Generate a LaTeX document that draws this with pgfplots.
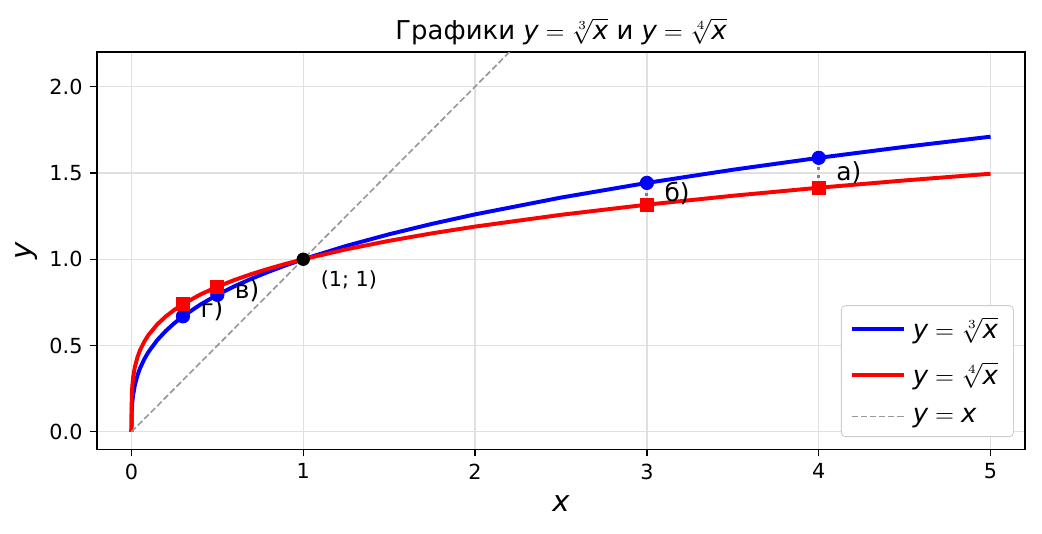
\documentclass[border=0pt]{standalone}
\usepackage{fontspec}
\setmainfont{DejaVu Sans}
\usepackage{pgfplots}
\pgfplotsset{compat=1.18}
\newcommand{\vx}{\textit{x}}
\newcommand{\vy}{\textit{y}}
\definecolor{lgray}{RGB}{153,153,153}
\begin{document}
\begin{tikzpicture}
\begin{axis}[name=ax, scale only axis, width=445.4bp, height=190.6bp,
  xmin=-0.2, xmax=5.2, ymin=-0.1, ymax=2.2,
  xtick={0,1,2,3,4,5}, ytick={0,0.5,1,1.5,2},
  yticklabel style={/pgf/number format/.cd, fixed, fixed zerofill, precision=1},
  xticklabel style={/pgf/number format/.cd, fixed, precision=0},
  /pgf/number format/assume math mode=true,
  tick label style={font=\fontsize{10}{12}\selectfont},
  xtick pos=bottom, ytick pos=left, tick align=outside,
  major tick length=3.5pt, every tick/.style={black, line width=0.6pt},
  axis line style={line width=0.6pt},
  grid=major, grid style={black!12, line width=0.6pt},
  title={Графики $\vy = \sqrt[3]{\vx}$ и $\vy = \sqrt[4]{\vx}$},
  title style={font=\fontsize{12.5}{14}\selectfont, at={(axis description cs:0.5,1)}, anchor=base, inner sep=0.5pt},
  xlabel={\vx}, xlabel style={font=\fontsize{14}{16}\selectfont, at={(axis description cs:0.5,0)}, anchor=center, yshift=-26bp},
  ylabel={\vy}, ylabel style={font=\fontsize{14}{16}\selectfont, at={(axis description cs:-0.0755,0.5)}, anchor=center},
  legend style={at={(axis description cs:1,0)}, anchor=south east, xshift=-5.3bp, yshift=5.8bp,
    font=\fontsize{12.5}{14}\selectfont, draw=black!20, rounded corners=2pt, fill=white,
    inner xsep=4pt, inner ysep=5pt, row sep=9pt, nodes={inner xsep=3.5pt, inner ysep=0.5pt}},
  legend cell align=left,
  legend image code/.code={\draw[#1] (0bp,0bp) -- (25bp,0bp);},
]
\addplot[blue, line width=1.9pt] coordinates {
(0,0) (0.002,0.1260) (0.005,0.1710) (0.01,0.2154) (0.02,0.2714) (0.035,0.3271) (0.05,0.3684) (0.075,0.4217) (0.1,0.4642) (0.15,0.5313) (0.2,0.5848) (0.25,0.6300) (0.3,0.6694) (0.4,0.7368) (0.5,0.7937) (0.6,0.8434) (0.7,0.8879) (0.8,0.9283) (0.9,0.9655) (1,1) (1.25,1.0772) (1.5,1.1447) (1.75,1.2051) (2,1.2599) (2.5,1.3572) (3,1.4422) (3.5,1.5183) (4,1.5874) (4.5,1.6510) (5,1.7100)};
\addlegendentry{$\vy = \sqrt[3]{\vx}$}
\addplot[red, line width=1.9pt] coordinates {
(0,0) (0.002,0.2115) (0.005,0.2659) (0.01,0.3162) (0.02,0.3761) (0.035,0.4325) (0.05,0.4729) (0.075,0.5233) (0.1,0.5623) (0.15,0.6223) (0.2,0.6687) (0.25,0.7071) (0.3,0.7401) (0.4,0.7953) (0.5,0.8409) (0.6,0.8801) (0.7,0.9147) (0.8,0.9457) (0.9,0.9740) (1,1) (1.25,1.0574) (1.5,1.1067) (1.75,1.1502) (2,1.1892) (2.5,1.2574) (3,1.3161) (3.5,1.3678) (4,1.4142) (4.5,1.4565) (5,1.4953)};
\addlegendentry{$\vy = \sqrt[4]{\vx}$}
\addplot[lgray, line width=0.8pt, dash pattern=on 3pt off 1.4pt] coordinates {(0,0) (5,5)};
\addlegendentry{$\vy = \vx$}
% markers
\addplot[only marks, mark=*, blue, mark size=3.2bp, forget plot] coordinates {(0.3,0.6694) (0.5,0.7937) (3,1.4422) (4,1.5874)};
\addplot[only marks, mark=square*, red, mark size=3.1bp, forget plot] coordinates {(0.3,0.7401) (0.5,0.8409) (3,1.3161) (4,1.4142)};
% dotted verticals
\addplot[gray, line width=1.4pt, dash pattern=on 1.4pt off 2.2pt, forget plot] coordinates {(4,1.62) (4,1.38)};
\addplot[gray, line width=1.4pt, dash pattern=on 1.4pt off 2.2pt, forget plot] coordinates {(3,1.47) (3,1.29)};
\addplot[gray, line width=1.4pt, dash pattern=on 1.4pt off 2.2pt, forget plot] coordinates {(0.5,0.87) (0.5,0.765)};
\addplot[gray, line width=1.4pt, dash pattern=on 1.4pt off 2.2pt, forget plot] coordinates {(0.3,0.77) (0.3,0.64)};
% point (1,1)
\addplot[only marks, mark=*, black, mark size=3bp, forget plot] coordinates {(1,1)};
\node[anchor=west, inner sep=0pt, font=\fontsize{12}{14}\selectfont] at (axis cs:4.1,1.50) {а)};
\node[anchor=west, inner sep=0pt, font=\fontsize{12}{14}\selectfont] at (axis cs:3.1,1.379) {б)};
\node[anchor=west, inner sep=0pt, font=\fontsize{12}{14}\selectfont] at (axis cs:0.6,0.817) {в)};
\node[anchor=west, inner sep=0pt, font=\fontsize{12}{14}\selectfont] at (axis cs:0.4,0.705) {г)};
\node[anchor=west, inner sep=0pt, font=\fontsize{10}{12}\selectfont] at (axis cs:1.1,0.88) {(1; 1)};
\end{axis}
\pgfresetboundingbox
\path[use as bounding box] ([xshift=-46.6bp, yshift=-40.3bp]ax.south west) rectangle ([xshift=8.2bp, yshift=25bp]ax.north east);
\end{tikzpicture}
\end{document}
